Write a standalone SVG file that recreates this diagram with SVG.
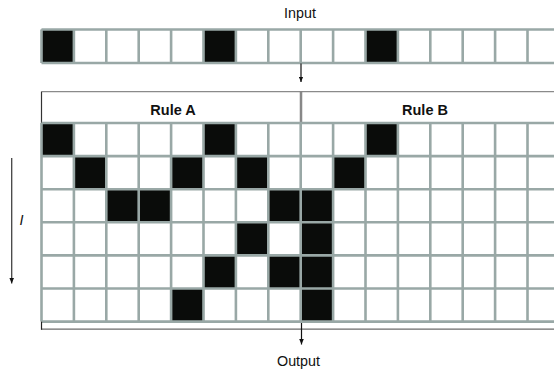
<svg xmlns="http://www.w3.org/2000/svg" width="554" height="372" viewBox="0 0 554 372">
<style>
.lbl{font-family:"Liberation Sans",Arial,sans-serif;font-size:14.3px;fill:#111}
.rule{font-family:"Liberation Sans",Arial,sans-serif;font-size:14.5px;font-weight:bold;fill:#111}
.blk{fill:#0a0c0a}
.grid{stroke:#99a8a6;stroke-width:2.6;fill:none}
.conn{stroke:#111;stroke-width:1.2;fill:none}
</style>
<defs>
<marker id="ah" viewBox="0 0 6 5" refX="6" refY="2.5" markerWidth="5.5" markerHeight="5" markerUnits="userSpaceOnUse" orient="auto">
<path d="M0,0 L6,2.5 L0,5 z" fill="#111"/>
</marker>
<rect id="cell" width="32.4" height="33.1" class="blk"/>
</defs>
<rect width="554" height="372" fill="#fff"/>

<g id="input-label"><text class="lbl" x="300" y="18.3" text-anchor="middle">Input</text></g>

<g id="input-row">
<rect x="41.5" y="29.5" width="32.4" height="33.5" class="blk"/>
<rect x="203.5" y="29.5" width="32.4" height="33.5" class="blk"/>
<rect x="365.5" y="29.5" width="32.4" height="33.5" class="blk"/>
<path class="grid" d="M41.5,29.5H554M41.5,63H554M41.5,29.5V63M73.9,29.5V63M106.3,29.5V63M138.7,29.5V63M171.1,29.5V63M203.5,29.5V63M235.9,29.5V63M268.3,29.5V63M300.7,29.5V63M333.1,29.5V63M365.5,29.5V63M397.9,29.5V63M430.3,29.5V63M462.7,29.5V63M495.1,29.5V63M527.5,29.5V63"/>
</g>

<g id="header">
<path d="M41.5,91.6H554" stroke="#8a8a8a" stroke-width="1.2" fill="none"/>
<path d="M41.5,91.6V123" stroke="#333" stroke-width="1.2" fill="none"/>
<path d="M301,91.6V123" stroke="#666" stroke-width="2.4" fill="none"/>
<path d="M301,91.6V123" stroke="#bbb" stroke-width="0.8" fill="none"/>
<text class="rule" x="173" y="115.3" text-anchor="middle">Rule A</text>
<text class="rule" x="425" y="115.3" text-anchor="middle">Rule B</text>
</g>

<g id="main-grid">
<use href="#cell" x="41.5" y="123"/><use href="#cell" x="203.5" y="123"/><use href="#cell" x="365.5" y="123"/>
<use href="#cell" x="73.9" y="156.1"/><use href="#cell" x="171.1" y="156.1"/><use href="#cell" x="235.9" y="156.1"/><use href="#cell" x="333.1" y="156.1"/>
<use href="#cell" x="106.3" y="189.2"/><use href="#cell" x="138.7" y="189.2"/><use href="#cell" x="268.3" y="189.2"/><use href="#cell" x="300.7" y="189.2"/>
<use href="#cell" x="235.9" y="222.3"/><use href="#cell" x="300.7" y="222.3"/>
<use href="#cell" x="203.5" y="255.4"/><use href="#cell" x="268.3" y="255.4"/><use href="#cell" x="300.7" y="255.4"/>
<use href="#cell" x="171.1" y="288.5"/><use href="#cell" x="300.7" y="288.5"/>
<path class="grid" d="M41.5,123H554M41.5,156.1H554M41.5,189.2H554M41.5,222.3H554M41.5,255.4H554M41.5,288.5H554M41.5,321.6H554M41.5,123V321.6M73.9,123V321.6M106.3,123V321.6M138.7,123V321.6M171.1,123V321.6M203.5,123V321.6M235.9,123V321.6M268.3,123V321.6M300.7,123V321.6M333.1,123V321.6M365.5,123V321.6M397.9,123V321.6M430.3,123V321.6M462.7,123V321.6M495.1,123V321.6M527.5,123V321.6"/>
</g>

<g id="footer">
<path d="M41.5,329.2H554" stroke="#6a6a6a" stroke-width="1.2" fill="none"/>
<path d="M41.5,321.6V329.8" stroke="#222" stroke-width="1.2" fill="none"/>
</g>

<g id="connectors">
<path class="conn" d="M301,63.5V82" marker-end="url(#ah)"/>
<path class="conn" d="M301.5,323V344.5" marker-end="url(#ah)"/>
<path d="M11.7,158V283.5" stroke="#444" stroke-width="1.3" fill="none" marker-end="url(#ah)"/>
</g>

<g id="time-label"><text class="lbl" x="21.5" y="225" text-anchor="middle" font-style="italic">I</text></g>
<g id="output-label"><text class="lbl" x="298.5" y="366.3" text-anchor="middle">Output</text></g>
</svg>
